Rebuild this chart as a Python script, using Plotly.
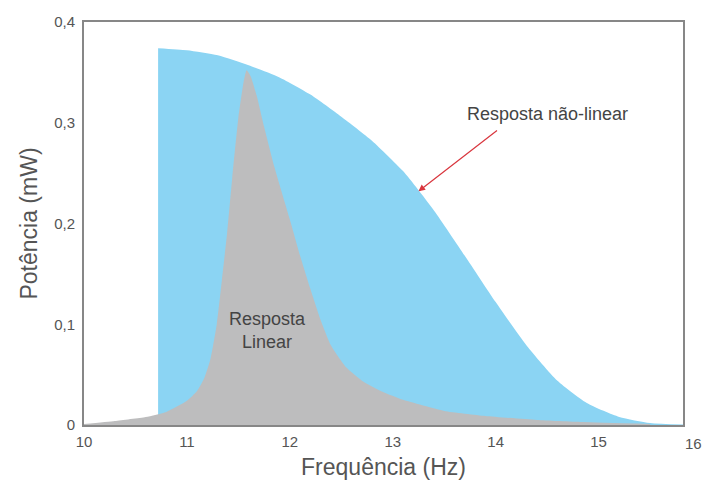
import plotly.graph_objects as go

# Non-linear response (blue area)
nl_freq = [10.72, 11.0, 11.3, 11.6, 11.9, 12.2, 12.5, 12.8, 13.1, 13.4, 13.7,
           14.0, 14.3, 14.6, 14.9, 15.2, 15.5, 15.82]
nl_power = [0.374, 0.372, 0.367, 0.357, 0.345, 0.328, 0.306, 0.282, 0.252, 0.213, 0.168,
            0.122, 0.079, 0.044, 0.021, 0.008, 0.002, 0.0005]

# Linear response (gray area)
lin_freq = [10.0, 10.3, 10.6, 10.8, 11.0, 11.1, 11.17, 11.23, 11.29, 11.34, 11.39,
            11.44, 11.5, 11.55, 11.58, 11.62, 11.68, 11.75, 11.85, 12.0, 12.1, 12.2,
            12.3, 12.4, 12.55, 12.7, 12.9, 13.1, 13.5, 13.9, 14.4, 14.84, 15.5]
lin_power = [0.001, 0.004, 0.008, 0.013, 0.024, 0.034, 0.047, 0.066, 0.1, 0.144, 0.19,
             0.245, 0.305, 0.34, 0.352, 0.346, 0.326, 0.296, 0.256, 0.204, 0.168, 0.135,
             0.104, 0.079, 0.057, 0.044, 0.033, 0.025, 0.014, 0.009, 0.005, 0.003, 0.001]

x_ticks = [10, 11, 12, 13, 14, 15]
x_ticktext = ["10", "11", "12", "13", "14", "15"]
y_ticks = [0, 0.1, 0.2, 0.3, 0.4]
y_ticktext = ["0", "0,1", "0,2", "0,3", "0,4"]

fig = go.Figure()
fig.add_trace(go.Scatter(x=nl_freq, y=nl_power, fill="tozeroy", mode="lines",
                         line=dict(width=0, shape="spline", smoothing=0.6),
                         fillcolor="#8bd4f3", hoverinfo="skip", showlegend=False))
fig.add_trace(go.Scatter(x=lin_freq, y=lin_power, fill="tozeroy", mode="lines",
                         line=dict(width=0, shape="spline", smoothing=0.5),
                         fillcolor="#bdbdbe", hoverinfo="skip", showlegend=False))

axis_color = "#878787"
tick_font = dict(size=15, color="#555")
fig.update_layout(
    width=705, height=490,
    margin=dict(l=84, r=22, t=22, b=65),
    paper_bgcolor="white", plot_bgcolor="white",
    font=dict(family="Liberation Sans, Arial, sans-serif", color="#444"),
    xaxis=dict(range=[10, 15.82], tickvals=x_ticks, ticktext=x_ticktext,
               showgrid=False, zeroline=False, showline=True, linecolor=axis_color,
               linewidth=2, mirror=True, ticks="", tickfont=tick_font,
               ticklabelstandoff=2,
               title=dict(text="Frequência (Hz)", font=dict(size=23, color="#555"), standoff=10)),
    yaxis=dict(range=[0, 0.4], tickvals=y_ticks, ticktext=y_ticktext,
               showgrid=False, zeroline=False, showline=True, linecolor=axis_color,
               linewidth=2, mirror=True, ticks="", tickfont=tick_font,
               ticklabelstandoff=4,
               title=dict(text="Potência (mW)", font=dict(size=23, color="#555"), standoff=10)),
    annotations=[
        dict(x=1.0, y=-0.02, xref="paper", yref="paper", text="16", showarrow=False,
             xanchor="left", yanchor="top", font=tick_font),
        dict(x=11.78, y=0.094, xref="x", yref="y", text="Resposta<br>Linear",
             showarrow=False, font=dict(size=18, color="#444")),
        dict(x=13.25, y=0.232, xref="x", yref="y", ax=80, ay=-62,
             text="", showarrow=True, arrowhead=2, arrowsize=1.1, arrowwidth=1.2,
             arrowcolor="#d9363e"),
        dict(x=14.5, y=0.309, xref="x", yref="y", text="Resposta não-linear",
             showarrow=False, font=dict(size=18, color="#444")),
    ],
)
fig.write_html("out.html", config={"displayModeBar": False},
               post_script="document.body.style.margin='0';")
